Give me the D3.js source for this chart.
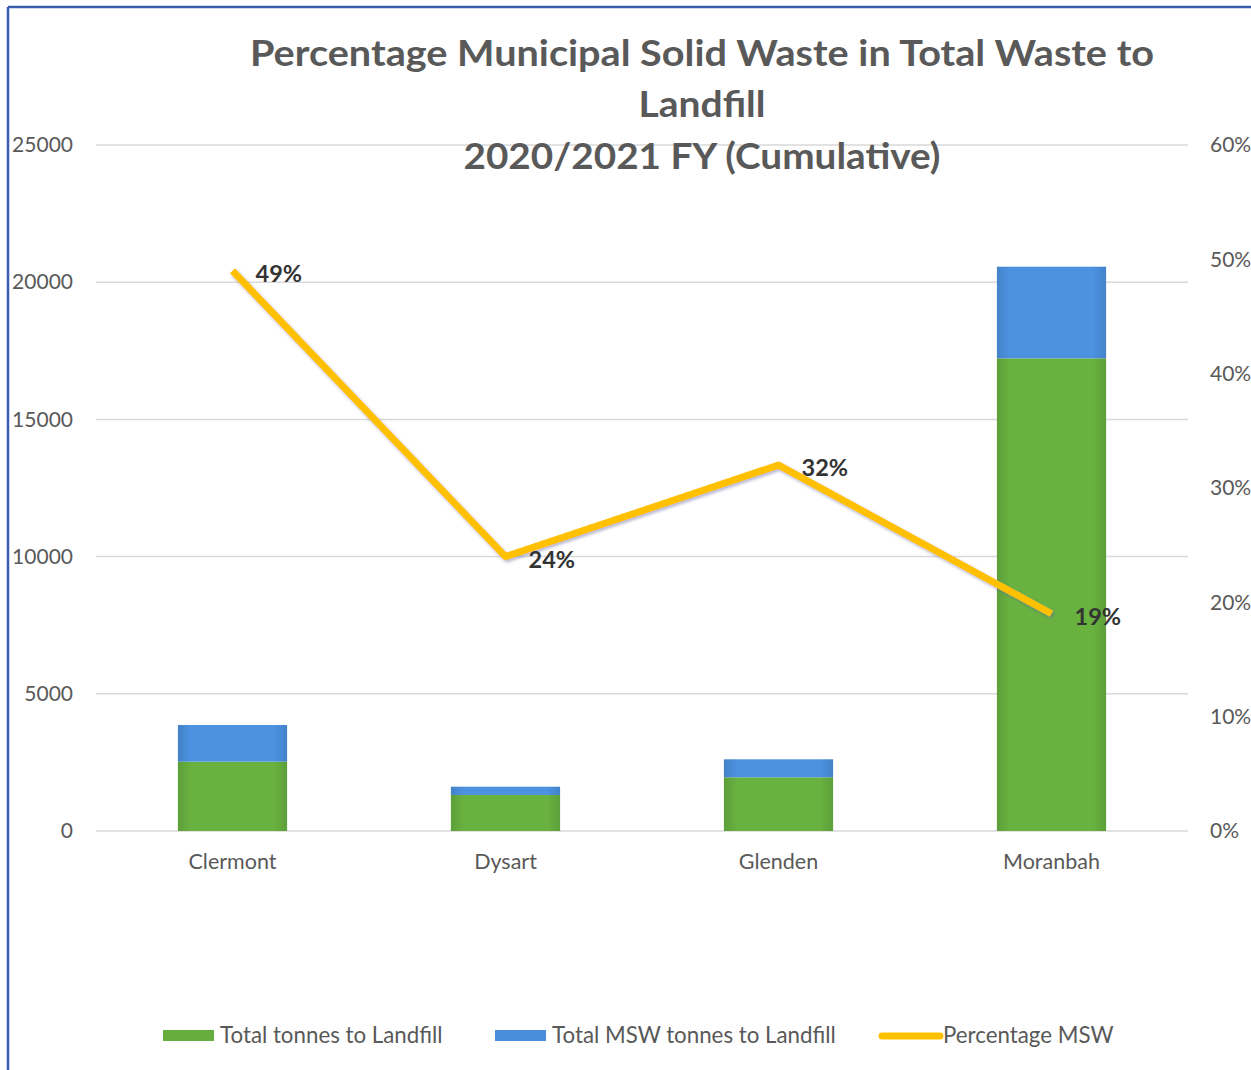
<!DOCTYPE html>
<html>
<head>
<meta charset="utf-8">
<script src="https://cdn.jsdelivr.net/npm/d3@7"></script>
<style>
  html, body { margin: 0; padding: 0; background: #fff; }
  svg { display: block; }
  text { font-family: Lato, "Open Sans", sans-serif; }
</style>
</head>
<body>
<svg id="chart" width="1251" height="1070"></svg>
<script>
// Sites and tonnages (cumulative for the 2020/2021 financial year)
const sites = ["Clermont", "Dysart", "Glenden", "Moranbah"];
const totalTonnes = [2525, 1312, 1957, 17226];   // green segment
const mswTonnes = [1338, 302, 656, 3338];        // blue segment stacked on top
const pctMSW = [0.49, 0.24, 0.32, 0.19];         // line on the right axis

const leftTicks = [0, 5000, 10000, 15000, 20000, 25000];
const rightTicks = [0, 0.1, 0.2, 0.3, 0.4, 0.5, 0.6];
const titleLines = [
  "Percentage Municipal Solid Waste in Total Waste to",
  "Landfill",
  "2020/2021 FY (Cumulative)"
];
const legendLabels = ["Total tonnes to Landfill", "Total MSW tonnes to Landfill", "Percentage MSW"];

const colors = { green: "#66ad3e", blue: "#4a8edb", gold: "#ffc000", grid: "#d9d9d9", text: "#595959" };

const svg = d3.select("#chart");
const plot = { left: 96, right: 1188, top: 145, bottom: 831 };

const defs = svg.append("defs");
function barGradient(id, base) {
  const c = d3.color(base);
  const g = defs.append("linearGradient").attr("id", id).attr("x1", 0).attr("x2", 1).attr("y1", 0).attr("y2", 0);
  g.append("stop").attr("offset", "0%").attr("stop-color", c.darker(0.25));
  g.append("stop").attr("offset", "12%").attr("stop-color", c.brighter(0.08));
  g.append("stop").attr("offset", "88%").attr("stop-color", c.brighter(0.08));
  g.append("stop").attr("offset", "100%").attr("stop-color", c.darker(0.25));
}
barGradient("gGreen", colors.green);
barGradient("gBlue", colors.blue);
const shadow = defs.append("filter").attr("id", "lineShadow").attr("x", "-10%").attr("y", "-10%").attr("width", "120%").attr("height", "120%");
shadow.append("feDropShadow").attr("dx", 1.5).attr("dy", 2).attr("stdDeviation", 1.5)
  .attr("flood-color", "#5a5a9a").attr("flood-opacity", 0.45);

// Frame of the chart area (left and top edges)
svg.append("line").attr("x1", 8).attr("x2", 8).attr("y1", 7).attr("y2", 1070)
  .attr("stroke", "#3a5bb0").attr("stroke-width", 2.5);
svg.append("line").attr("x1", 8).attr("x2", 1251).attr("y1", 7).attr("y2", 7)
  .attr("stroke", "#3a5bb0").attr("stroke-width", 2.5);

const x = d3.scaleBand().domain(sites).range([plot.left, plot.right]).paddingInner(0.6).paddingOuter(0.3);
const y = d3.scaleLinear().domain([0, 25000]).range([plot.bottom, plot.top]);
const y2 = d3.scaleLinear().domain([0, 0.6]).range([plot.bottom, plot.top]);

// Horizontal gridlines
svg.append("g").selectAll("line").data(leftTicks).join("line")
  .attr("x1", plot.left).attr("x2", plot.right)
  .attr("y1", d => y(d)).attr("y2", d => y(d))
  .attr("stroke", colors.grid).attr("stroke-width", 1.5);

// Left axis labels
const leftAxis = svg.append("g").attr("transform", "translate(73,0)")
  .call(d3.axisLeft(y).tickValues(leftTicks).tickSize(0).tickPadding(0).tickFormat(d3.format("d")));
leftAxis.select(".domain").remove();
leftAxis.selectAll("text").attr("font-size", 21).attr("fill", colors.text)
  .style("font-family", "Lato, sans-serif");

// Right axis labels
const rightAxis = svg.append("g").attr("transform", "translate(1210,0)")
  .call(d3.axisRight(y2).tickValues(rightTicks).tickSize(0).tickPadding(0).tickFormat(d3.format(".0%")));
rightAxis.select(".domain").remove();
rightAxis.selectAll("text").attr("font-size", 21).attr("fill", colors.text)
  .style("font-family", "Lato, sans-serif");

// Stacked bars
const stackData = sites.map((s, i) => ({ site: s, total: totalTonnes[i], msw: mswTonnes[i] }));
const series = d3.stack().keys(["total", "msw"])(stackData);
const fills = { total: "url(#gGreen)", msw: "url(#gBlue)" };
svg.append("g").selectAll("g").data(series).join("g")
  .attr("fill", d => fills[d.key])
  .selectAll("rect").data(d => d).join("rect")
  .attr("x", d => x(d.data.site))
  .attr("width", x.bandwidth())
  .attr("y", d => y(d[1]))
  .attr("height", d => y(d[0]) - y(d[1]));

// Category labels
svg.append("g").selectAll("text").data(sites).join("text")
  .attr("x", d => x(d) + x.bandwidth() / 2)
  .attr("y", 869)
  .attr("text-anchor", "middle")
  .attr("font-size", 21.5)
  .attr("fill", colors.text)
  .text(d => d);

// Percentage line
const linePts = sites.map((s, i) => [x(s) + x.bandwidth() / 2, y2(pctMSW[i])]);
svg.append("path")
  .attr("d", d3.line()(linePts))
  .attr("fill", "none")
  .attr("stroke", colors.gold)
  .attr("stroke-width", 7)
  .attr("stroke-linejoin", "round")
  .attr("filter", "url(#lineShadow)");

// Data labels to the right of each point
svg.append("g").selectAll("text").data(linePts).join("text")
  .attr("x", d => d[0] + 23)
  .attr("y", d => d[1] + 11)
  .attr("font-size", 23.5)
  .attr("font-weight", "bold")
  .attr("fill", "#333")
  .text((d, i) => d3.format(".0%")(pctMSW[i]));

// Title, stretched to the width of the chart heading
const titleWidths = [904, 127, 477];
svg.append("g").selectAll("text").data(titleLines).join("text")
  .attr("x", 702)
  .attr("y", (d, i) => [66, 117, 169][i])
  .attr("text-anchor", "middle")
  .attr("font-size", 36)
  .attr("font-weight", "bold")
  .attr("fill", "#595959")
  .attr("textLength", (d, i) => titleWidths[i])
  .attr("lengthAdjust", "spacingAndGlyphs")
  .text(d => d);

// Legend
const legend = svg.append("g");
const legendItems = [
  { label: legendLabels[0], type: "rect", fill: colors.green, sx: 163, tx: 220 },
  { label: legendLabels[1], type: "rect", fill: colors.blue, sx: 495, tx: 552 },
  { label: legendLabels[2], type: "line", fill: colors.gold, sx: 882, tx: 943 }
];
legendItems.forEach(it => {
  if (it.type === "rect") {
    legend.append("rect").attr("x", it.sx).attr("y", 1030).attr("width", 51).attr("height", 11).attr("fill", it.fill);
  } else {
    legend.append("line").attr("x1", it.sx).attr("x2", it.sx + 58).attr("y1", 1036).attr("y2", 1036)
      .attr("stroke", it.fill).attr("stroke-width", 7).attr("stroke-linecap", "round");
  }
  legend.append("text").attr("x", it.tx).attr("y", 1043).attr("font-size", 22.3)
    .attr("fill", colors.text).text(it.label);
});
</script>
</body>
</html>
